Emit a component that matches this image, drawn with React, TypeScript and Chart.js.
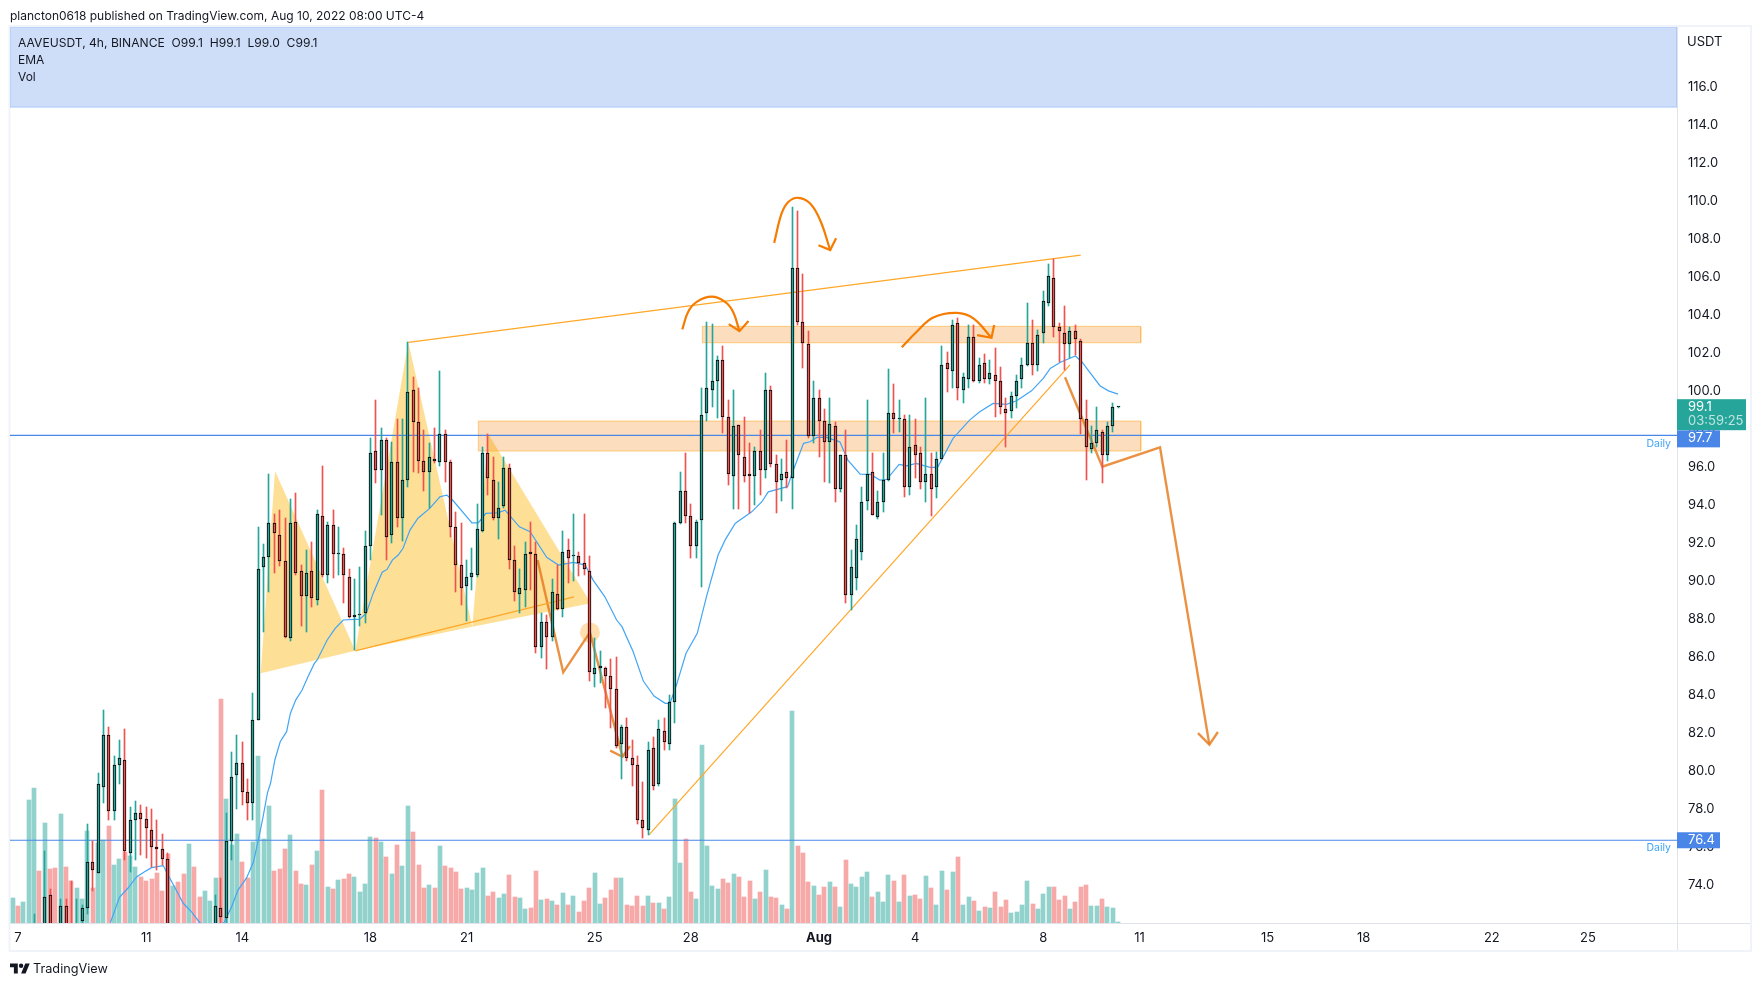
import { useEffect, useRef } from 'react';
import Chart from 'chart.js/auto';

const fontFamily = 'Inter, sans-serif';
const textColor = '#131722';
const upColor = '#26a69a';
const downColor = '#ef5350';
const upVolume = 'rgba(38,166,154,0.5)';
const downVolume = 'rgba(239,83,80,0.5)';
const trendColor = '#ffa726';
const pathColor = 'rgba(230,126,34,0.85)';
const arrowColor = '#f57c00';
const levelColor = '#4a86e8';

// bar number 0 is Jul 7 00:00, one bar is 4h
const firstBar = -1;

const opens = [
    71.0, 71.3, 70.9, 71.2, 71.0, 71.5, 71.0, 73.43, 71.4, 71.0,
    72.86, 71.5, 71.0, 72.07, 72.75, 75.17, 74.62, 79.15, 81.85, 77.85,
    80.27, 80.53, 75.64, 77.38, 77.75, 77.43, 76.85, 75.96, 75.85, 75.33,
    71.0, 71.3, 70.9, 70.5, 71.0, 70.7, 70.4, 70.9, 71.5, 72.75,
    72.23, 76.27, 79.74, 80.37, 78.85, 78.27, 82.64, 90.68, 91.24, 93.0,
    92.36, 91.0, 86.95, 93.05, 90.47, 89.16, 90.47, 88.94, 93.36, 90.26,
    92.89, 91.36, 91.36, 90.15, 88.05, 88.16, 88.26, 91.78, 96.78, 95.78,
    97.36, 92.36, 96.2, 93.26, 95.25, 99.99, 98.3, 96.25, 95.67, 96.36,
    96.2, 97.67, 96.2, 92.78, 90.79, 89.68, 90.15, 90.26, 92.57, 96.67,
    95.25, 93.26, 93.89, 95.88, 91.05, 89.26, 89.47, 91.47, 91.36, 86.47,
    87.79, 87.04, 89.26, 88.47, 91.57, 91.26, 91.26, 90.89, 90.47, 85.05,
    85.37, 85.37, 84.95, 84.27, 81.38, 82.27, 80.64, 80.27, 77.38, 76.85,
    81.16, 79.27, 82.06, 81.37, 83.58, 93.0, 94.67, 93.36, 91.78, 93.15,
    98.78, 99.99, 100.46, 101.56, 98.57, 95.46, 98.19, 96.46, 95.57, 95.46,
    96.78, 95.78, 99.99, 96.09, 95.25, 95.67, 95.36, 106.4, 103.56, 102.4,
    97.57, 99.57, 98.36, 97.25, 98.09, 94.78, 96.57, 89.22, 90.11, 91.48,
    94.17, 95.67, 93.34, 94.1, 95.25, 98.78, 98.46, 98.46, 94.88, 97.09,
    96.67, 95.15, 95.57, 94.88, 96.36, 101.41, 100.98, 103.51, 99.99, 100.56,
    102.77, 100.46, 101.41, 100.56, 100.77, 100.46, 98.99, 98.88, 99.67, 100.56,
    101.3, 102.46, 101.3, 102.98, 104.56, 105.87, 103.3, 102.98, 102.4, 103.09,
    102.56, 98.46, 96.88, 97.2, 97.78, 96.57, 98.09, 99.1,
];
const closes = [
    71.3, 70.9, 71.2, 71.5, 71.5, 70.9, 73.33, 71.0, 71.0, 72.86,
    71.2, 71.0, 71.5, 72.75, 75.17, 74.75, 79.27, 81.85, 77.85, 80.27,
    80.64, 75.75, 77.38, 77.75, 77.43, 76.96, 75.96, 75.85, 75.33, 71.2,
    71.3, 70.9, 70.5, 71.0, 70.7, 70.4, 70.9, 71.4, 72.86, 72.31,
    76.27, 79.64, 80.37, 78.85, 78.27, 82.64, 90.57, 91.24, 93.0, 92.47,
    91.0, 87.03, 93.0, 90.36, 89.16, 90.36, 89.05, 93.47, 90.26, 92.89,
    91.36, 91.4, 90.26, 88.05, 88.16, 88.18, 91.78, 96.67, 95.78, 97.36,
    92.26, 96.2, 93.26, 95.25, 99.88, 98.3, 96.25, 95.67, 96.46, 96.25,
    97.67, 96.2, 92.78, 90.79, 89.57, 90.15, 90.36, 92.68, 96.67, 95.36,
    93.26, 93.78, 95.88, 91.05, 89.37, 89.57, 91.36, 91.36, 86.47, 87.79,
    87.03, 89.37, 88.47, 91.47, 91.15, 91.28, 90.89, 90.57, 85.16, 85.37,
    85.47, 84.95, 84.27, 81.27, 82.27, 80.64, 80.27, 77.38, 76.96, 81.06,
    79.16, 82.16, 81.48, 83.58, 93.0, 94.67, 93.36, 91.78, 93.05, 98.67,
    100.09, 100.46, 101.56, 98.57, 95.57, 98.09, 96.57, 95.46, 95.46, 96.78,
    95.78, 99.99, 96.09, 95.15, 95.57, 95.36, 106.4, 103.56, 102.46, 97.57,
    99.57, 98.36, 97.25, 98.2, 94.78, 96.57, 89.22, 90.7, 92.17, 94.13,
    95.57, 93.44, 94.1, 95.25, 98.78, 98.46, 98.48, 94.88, 96.99, 96.57,
    95.15, 95.57, 94.78, 96.36, 101.3, 101.09, 103.4, 100.09, 100.67, 102.77,
    100.46, 101.3, 100.56, 100.88, 100.46, 99.09, 98.78, 99.67, 100.46, 101.3,
    102.46, 101.3, 102.88, 104.66, 105.98, 103.3, 103.09, 102.4, 103.09, 102.67,
    98.46, 97.0, 97.2, 97.88, 96.57, 98.09, 99.09, 99.12,
];
const highs = [
    71.6, 71.5, 71.4, 71.7, 72.45, 71.7, 75.76, 73.77, 71.7, 73.24,
    73.24, 74.19, 73.24, 72.92, 77.18, 76.29, 79.87, 83.18, 82.28, 80.76,
    81.6, 82.18, 78.08, 78.39, 78.18, 78.08, 77.97, 77.39, 76.66, 75.66,
    71.5, 71.6, 71.2, 71.3, 71.3, 71.0, 71.1, 71.6, 73.45, 74.34,
    77.76, 80.97, 81.86, 81.49, 79.55, 84.07, 92.8, 91.91, 95.59, 93.48,
    93.69, 93.27, 94.27, 94.57, 90.8, 91.59, 92.01, 93.69, 96.0, 93.06,
    93.69, 92.8, 91.68, 90.57, 90.05, 90.68, 92.59, 97.46, 99.48, 98.0,
    97.46, 97.27, 98.46, 98.46, 102.51, 100.69, 100.09, 97.9, 97.21, 98.0,
    100.98, 97.9, 96.32, 93.59, 93.0, 91.06, 91.68, 94.0, 97.0, 97.69,
    96.48, 95.16, 96.48, 96.1, 91.8, 90.61, 92.0, 93.06, 92.01, 88.26,
    88.16, 90.05, 90.8, 92.59, 92.15, 93.48, 91.47, 93.48, 91.27, 86.96,
    86.28, 85.45, 85.86, 85.96, 82.39, 82.76, 81.6, 80.76, 79.39, 81.49,
    81.76, 82.65, 82.74, 83.97, 93.06, 95.67, 96.67, 94.0, 93.17, 100.11,
    103.56, 103.5, 101.77, 102.3, 99.48, 100.0, 98.19, 98.57, 97.2, 96.99,
    97.9, 100.88, 100.2, 96.57, 96.36, 97.37, 109.61, 109.4, 106.08, 103.09,
    100.46, 99.99, 98.99, 99.57, 98.3, 96.58, 97.88, 91.59, 92.9, 94.9,
    99.48, 96.67, 94.69, 96.67, 101.09, 100.3, 99.48, 98.69, 98.67, 98.48,
    97.0, 99.57, 96.67, 96.76, 102.32, 102.0, 103.68, 103.77, 100.88, 103.42,
    103.42, 101.68, 101.89, 101.58, 102.21, 101.2, 99.57, 99.9, 100.79, 101.67,
    104.56, 103.68, 103.16, 105.19, 106.63, 106.87, 103.51, 104.42, 103.3, 103.42,
    102.67, 99.48, 98.11, 99.09, 97.9, 98.33, 99.3, 99.13,
];
const lows = [
    70.4, 70.5, 70.6, 70.9, 70.5, 70.6, 70.5, 70.5, 70.5, 70.5,
    70.5, 70.5, 70.5, 71.5, 72.45, 73.66, 74.6, 78.29, 77.39, 77.39,
    79.29, 75.29, 74.66, 75.29, 75.55, 75.4, 74.92, 74.76, 75.03, 70.8,
    70.5, 70.6, 70.2, 70.2, 70.4, 70.1, 70.1, 70.6, 71.0, 71.5,
    71.5, 75.29, 77.97, 78.18, 77.39, 77.39, 82.63, 87.29, 89.4, 90.4,
    90.75, 86.96, 86.82, 90.27, 87.59, 87.29, 88.61, 88.71, 90.19, 89.84,
    90.1, 90.27, 88.79, 88.01, 86.33, 87.59, 87.74, 91.06, 95.11, 93.41,
    91.06, 91.94, 92.81, 92.08, 94.92, 95.71, 95.64, 94.71, 93.78, 96.16,
    96.0, 95.16, 92.29, 89.4, 88.7, 87.87, 89.49, 90.19, 92.55, 94.48,
    93.17, 92.17, 93.78, 90.59, 88.92, 88.26, 88.58, 89.49, 86.19, 85.9,
    85.32, 86.82, 88.43, 88.08, 89.84, 89.97, 90.22, 90.27, 84.72, 84.4,
    84.58, 83.3, 82.21, 81.16, 79.55, 80.51, 79.18, 77.18, 76.46, 76.6,
    78.97, 79.18, 81.07, 81.07, 82.51, 92.94, 93.0, 91.17, 91.18, 89.63,
    98.39, 99.12, 98.51, 97.72, 95.01, 93.73, 93.73, 95.18, 93.52, 93.96,
    94.48, 95.39, 95.94, 93.52, 94.17, 94.85, 93.73, 103.42, 101.14, 97.48,
    97.2, 96.49, 95.16, 95.11, 94.11, 94.65, 88.8, 88.43, 89.49, 91.06,
    93.69, 93.43, 93.2, 93.6, 95.24, 97.72, 97.81, 94.39, 94.48, 95.36,
    94.8, 94.13, 93.39, 94.31, 96.35, 99.91, 100.09, 99.48, 99.33, 100.09,
    100.44, 100.35, 100.35, 100.32, 98.6, 98.72, 97.02, 98.51, 99.06, 100.09,
    101.26, 100.79, 101.02, 102.47, 104.42, 102.8, 101.49, 101.05, 101.68, 101.84,
    97.67, 95.27, 96.69, 96.99, 95.13, 96.28, 97.81, 99.05,
];
const volumes = [
    25, 17, 21, 123, 135, 52, 100, 54, 55, 109,
    56, 42, 35, 24, 92, 35, 80, 83, 97, 58,
    64, 71, 67, 56, 46, 42, 44, 50, 32, 69,
    37, 41, 49, 79, 56, 26, 32, 22, 45, 224,
    124, 78, 89, 61, 45, 81, 167, 84, 117, 52,
    54, 74, 88, 52, 39, 38, 58, 72, 133, 36,
    34, 43, 44, 49, 46, 31, 39, 86, 85, 81,
    66, 49, 78, 57, 117, 91, 58, 35, 38, 35,
    77, 57, 55, 51, 34, 35, 33, 50, 55, 27,
    31, 25, 29, 48, 26, 25, 14, 15, 52, 23,
    24, 22, 18, 30, 18, 27, 11, 22, 35, 50,
    19, 25, 33, 45, 45, 18, 17, 27, 17, 27,
    20, 20, 14, 26, 124, 60, 84, 31, 24, 178,
    77, 37, 34, 44, 40, 49, 46, 26, 42, 24,
    31, 53, 26, 25, 18, 14, 212, 77, 70, 41,
    37, 28, 36, 41, 36, 16, 63, 39, 36, 46,
    51, 26, 31, 21, 48, 42, 21, 48, 27, 28,
    24, 47, 35, 18, 52, 33, 51, 66, 18, 26,
    22, 12, 16, 15, 31, 16, 23, 10, 11, 18,
    42, 19, 14, 29, 36, 36, 23, 27, 14, 21,
    36, 38, 17, 17, 24, 16, 15, 1,
];

const emaBars = [
    17.3, 19, 20.6, 22.2, 23.7, 25, 27.2, 28.1, 29.3, 30.9, 32.5, 34, 36, 38.6, 40, 41.2, 42.8, 44.1, 45, 45.9,
    46.7, 47.3, 48.1, 49.1, 50.3, 51, 52, 53.2, 54.3, 55.5, 56, 57.9, 59.4, 60.9, 64, 65.2, 66.5, 68.2, 69.1, 70.1,
    71.2, 72.1, 73.4, 74.9, 77.1, 79, 80.3, 81.5, 85, 86.2, 87.6, 89.9, 91.2, 93.9, 95.9, 99, 101.2, 104, 106.2, 107.7,
    109.9, 112.1, 113.1, 115.2, 117.1, 119.1, 121.2, 122.1, 123.4, 125.1, 127.2, 129, 131.1, 132.4, 134.3, 135.2, 137.4, 139.3, 140.5, 144.1,
    145.2, 147.1, 148.3, 149.6, 151.4, 153.9, 155.4, 157.7, 159.6, 161.4, 162.7, 165, 166.4, 168.2, 170.8, 172.2, 175.1, 178.2, 180.1, 182.6,
    185.1, 187, 189.8, 192, 193.3, 195.2, 198, 199.2, 202.6, 204.2, 206,
];
const emaValues = [
    72.0, 73.33, 73.82, 74.4, 74.67, 74.89, 75.0, 74.5, 73.89, 73.03, 72.57, 72.01, 71.7, 72.01, 72.84, 73.71, 74.35, 75.2, 76.34, 77.57,
    78.81, 79.34, 80.55, 81.51, 82.04, 83.0, 83.7, 84.23, 84.93, 85.63, 85.8, 86.86, 87.47, 87.91, 87.96, 88.26, 89.31, 90.42, 90.57, 91.06,
    91.33, 91.68, 92.64, 93.26, 93.78, 94.39, 94.48, 94.18, 93.02, 93.02, 93.52, 93.55, 93.69, 92.81, 92.55, 91.21, 90.8, 90.94, 90.8, 90.01,
    89.13, 87.91, 87.56, 86.24, 84.7, 83.91, 83.53, 83.53, 84.58, 86.16, 87.21, 89.22, 91.33, 92.11, 92.99, 93.17, 93.6, 94.13, 94.65, 94.92,
    95.8, 97.2, 97.28, 97.51, 97.51, 97.28, 96.32, 95.58, 95.57, 95.27, 95.31, 96.09, 96.02, 96.15, 95.94, 95.94, 97.46, 98.42, 98.86, 99.3,
    99.25, 99.44, 99.96, 100.62, 101.14, 101.46, 101.79, 101.49, 100.23, 99.96, 99.79,
];

const priceTicks = [74, 76, 78, 80, 82, 84, 86, 88, 90, 92, 94, 96, 98, 100, 102, 104, 106, 108, 110, 112, 114, 116];
const dayTicks = [0, 24, 42, 66, 84, 108, 126, 150, 168, 192, 210, 234, 252, 276, 294];
const dayLabels = ['7', '11', '14', '18', '21', '25', '28', 'Aug', '4', '8', '11', '15', '18', '22', '25'];

// price and bar range the pane shows
const barMin = -1.5;
const barMax = 310.67;
const priceMin = 71.98;
const priceMax = 119.09;

const dailyHigh = 97.62;
const dailyLow = 76.33;
const lastClose = 99.1;

// drawings, as [bar, price]
const patternLeft = [[45.45, 85.11], [48.13, 95.74], [63.16, 86.29], [45.45, 85.11]];
const patternHead = [[63.16, 86.29], [73.09, 102.51], [85.07, 87.56], [63.16, 86.29]];
const patternRight = [[85.07, 87.56], [88.07, 97.69], [107.25, 88.79], [85.07, 87.56]];
const necklineLine = [[63.16, 86.29], [104.12, 89.13]];
const upperTrend = [[73.09, 102.51], [199.0, 107.1]];
const lowerTrend = [[118.16, 76.61], [197.0, 101.33]];
const upperZone = [[128.15, 103.35], [210.24, 103.35], [210.24, 102.49], [128.15, 102.49], [128.15, 103.35]];
const lowerZone = [[86.2, 98.37], [210.24, 98.37], [210.24, 96.8], [86.2, 96.8], [86.2, 98.37]];
const legendBand = [[barMin, priceMax], [barMax, priceMax], [barMax, 114.88], [barMin, 114.88], [barMin, priceMax]];
const pathOne = [[97.3, 91.06], [102.1, 85.16], [107.1, 87.26], [113.2, 80.72]];
const pathOneHead = [[110.9, 81.04], [113.2, 80.72], [114.6, 81.28]];
const pathTwo = [[196.07, 100.67], [203.05, 95.97], [213.86, 96.99], [223.1, 81.36]];
const pathTwoHead = [[220.97, 81.96], [223.1, 81.36], [224.7, 82.02]];
const curveOne = [[124.4, 103.19], [125.5, 104.12], [127.1, 104.64], [129.9, 104.91], [132.4, 104.64], [133.9, 104.12], [135.1, 103.1]];
const curveOneHead = [[133.1, 103.47], [135.1, 103.1], [136.8, 103.63]];
const curveTwo = [[141.6, 107.74], [143.0, 109.29], [144.3, 109.9], [146.1, 110.11], [148.3, 109.82], [150.2, 108.94], [152.1, 107.36]];
const curveTwoHead = [[149.9, 107.62], [152.1, 107.36], [153.2, 107.98]];
const curveThree = [[165.5, 102.25], [168.3, 103.07], [171.4, 103.82], [175.8, 104.06], [178.9, 103.77], [182.3, 102.75]];
const curveThreeHead = [[179.6, 102.89], [182.3, 102.75], [182.8, 103.42]];
const marker = [[107.1, 87.26]];

const toXY = (points: number[][]) => points.map(([x, y]) => ({ x, y }));

const line = (points: number[][], color: string, width: number, order: number, tension = 0) => ({
    type: 'line' as const,
    data: toXY(points),
    borderColor: color,
    borderWidth: width,
    pointRadius: 0,
    tension,
    order,
});

const shape = (points: number[][], fillColor: string, edge: string, order: number) => ({
    type: 'line' as const,
    data: toXY(points),
    backgroundColor: fillColor,
    borderColor: edge,
    borderWidth: edge === 'transparent' ? 0 : 1,
    pointRadius: 0,
    fill: 'shape',
    order,
});

// keep candles and volume on whole pixels, so the thin black edges stay sharp
const snapBars = {
    id: 'snapBars',
    afterDatasetsUpdate(chart: Chart) {
        chart.data.datasets.forEach((ds: any, index: number) => {
            if (ds.type !== 'bar') return;
            chart.getDatasetMeta(index).data.forEach((el: any) => {
                el.x = ds.yAxisID === 'vol' ? Math.round(el.x) : Math.floor(el.x) + 0.5;
                el.y = Math.round(el.y);
                el.base = Math.round(el.base);
                if (el.y === el.base) el.y -= 1;
            });
        });
    },
};

// window chrome and the tags on the price axis
const frameAndTags = {
    id: 'frameAndTags',
    beforeDraw(chart: Chart) {
        const { ctx, chartArea } = chart;
        ctx.save();
        ctx.fillStyle = '#ffffff';
        ctx.fillRect(0, 0, chart.width, chart.height);
        ctx.strokeStyle = '#f0f3fa';
        ctx.lineWidth = 2;
        ctx.strokeRect(9.5, 26, 1741.5, 925);
        ctx.strokeStyle = '#e0e3eb';
        ctx.lineWidth = 1;
        ctx.beginPath();
        ctx.moveTo(chartArea.right + 0.5, 27);
        ctx.lineTo(chartArea.right + 0.5, 950);
        ctx.moveTo(10, chartArea.bottom + 0.5);
        ctx.lineTo(1750, chartArea.bottom + 0.5);
        ctx.stroke();
        ctx.restore();
    },
    afterDraw(chart: Chart) {
        const { ctx, chartArea } = chart;
        const y = chart.scales.y;
        const left = chartArea.right;
        const tagText = (text: string, py: number, color: string) => {
            ctx.fillStyle = color;
            ctx.fillText(text, left + 11, py);
        };
        ctx.save();
        ctx.font = `13px ${fontFamily}`;
        ctx.textBaseline = 'middle';
        ctx.textAlign = 'left';

        const closeY = y.getPixelForValue(lastClose);
        ctx.fillStyle = upColor;
        ctx.fillRect(left, closeY - 8, 69, 31);
        tagText(String(lastClose.toFixed(1)), closeY, '#ffffff');
        tagText('03:59:25', closeY + 14, 'rgba(255,255,255,0.7)');

        const highY = y.getPixelForValue(dailyHigh);
        ctx.fillStyle = levelColor;
        ctx.fillRect(left, highY - 5, 43, 17);
        tagText('97.7', highY + 3, '#ffffff');

        const lowY = y.getPixelForValue(dailyLow);
        ctx.fillStyle = levelColor;
        ctx.fillRect(left, lowY - 8, 43, 16);
        tagText('76.4', lowY, '#ffffff');

        ctx.font = `10.5px ${fontFamily}`;
        ctx.fillStyle = '#42a5f5';
        ctx.textAlign = 'right';
        ctx.fillText('Daily', left - 6, highY + 8);
        ctx.fillText('Daily', left - 6, lowY + 8);
        ctx.restore();
    },
};

const bars = opens.map((_, i) => firstBar + i);
const isUp = opens.map((o, i) => closes[i] >= o);

export default function App() {
    const chartRef = useRef<HTMLCanvasElement>(null);

    useEffect(() => {
        if (!chartRef.current) return;

        const chart = new Chart(chartRef.current, {
            type: 'bar',
            plugins: [snapBars, frameAndTags],
            data: {
                datasets: [
                    // curved arrows sit on top of the candles
                    line(curveOne, arrowColor, 2.2, 0, 0.4),
                    line(curveOneHead, arrowColor, 2.2, 0),
                    line(curveTwo, arrowColor, 2.2, 0, 0.4),
                    line(curveTwoHead, arrowColor, 2.2, 0),
                    line(curveThree, arrowColor, 2.2, 0, 0.4),
                    line(curveThreeHead, arrowColor, 2.2, 0),
                    shape(legendBand, '#cfdef8', '#a9c9fb', 0),
                    {
                        type: 'bar' as const,
                        data: bars.map((x, i) => ({ x, y: [opens[i], closes[i]] })),
                        backgroundColor: isUp.map((up) => (up ? upColor : downColor)),
                        borderColor: '#000000',
                        borderWidth: 1,
                        borderSkipped: false,
                        barThickness: 3,
                        grouped: false,
                        order: 1,
                    },
                    {
                        type: 'bar' as const,
                        data: bars.map((x, i) => ({ x, y: [lows[i], highs[i]] })),
                        backgroundColor: isUp.map((up) => (up ? upColor : downColor)),
                        barThickness: 1,
                        grouped: false,
                        order: 2,
                    },
                    {
                        type: 'line' as const,
                        data: emaBars.map((x, i) => ({ x, y: emaValues[i] })),
                        borderColor: '#42a5f5',
                        borderWidth: 1.2,
                        pointRadius: 0,
                        order: 3,
                    },
                    line(upperTrend, trendColor, 1.2, 4),
                    line(lowerTrend, trendColor, 1.2, 4),
                    line(necklineLine, trendColor, 1.2, 4),
                    line(pathOne, pathColor, 2.4, 4),
                    line(pathOneHead, pathColor, 2.4, 4),
                    line(pathTwo, pathColor, 2.4, 4),
                    line(pathTwoHead, pathColor, 2.4, 4),
                    {
                        type: 'line' as const,
                        data: toXY(marker),
                        pointRadius: 10,
                        pointBackgroundColor: 'rgba(255,183,77,0.45)',
                        pointBorderWidth: 0,
                        showLine: false,
                        order: 4,
                    },
                    line([[barMin, dailyHigh], [barMax, dailyHigh]], levelColor, 1.2, 5),
                    line([[barMin, dailyLow], [barMax, dailyLow]], levelColor, 1.2, 5),
                    shape(upperZone, 'rgba(245,124,0,0.25)', 'rgba(255,183,77,0.7)', 6),
                    shape(lowerZone, 'rgba(245,124,0,0.25)', 'rgba(255,183,77,0.7)', 6),
                    shape(patternLeft, 'rgba(251,192,45,0.5)', 'transparent', 7),
                    shape(patternHead, 'rgba(251,192,45,0.5)', 'transparent', 7),
                    shape(patternRight, 'rgba(251,192,45,0.5)', 'transparent', 7),
                    {
                        type: 'bar' as const,
                        data: bars.map((x, i) => ({ x, y: volumes[i] })),
                        yAxisID: 'vol',
                        backgroundColor: isUp.map((up) => (up ? upVolume : downVolume)),
                        barThickness: 4,
                        grouped: false,
                        order: 8,
                    },
                ],
            },
            options: {
                animation: false,
                responsive: false,
                devicePixelRatio: 1,
                layout: { padding: { left: 10, top: 27, right: 11, bottom: 35 } },
                plugins: {
                    legend: { display: false },
                    tooltip: { enabled: false },
                },
                scales: {
                    x: {
                        type: 'linear',
                        offset: false,
                        min: barMin,
                        max: barMax,
                        grid: { display: false, drawTicks: false, offset: false },
                        border: { display: false },
                        afterFit: (scale: any) => {
                            scale.height = 28;
                        },
                        afterBuildTicks: (scale: any) => {
                            scale.ticks = dayTicks.map((value) => ({ value }));
                        },
                        ticks: {
                            autoSkip: false,
                            maxRotation: 0,
                            padding: 7,
                            color: textColor,
                            font: (ctx: any) => ({
                                family: fontFamily,
                                size: 13,
                                weight: ctx.tick && ctx.tick.label === 'Aug' ? 'bold' : 'normal',
                            }),
                            callback: (value: any) => dayLabels[dayTicks.indexOf(Number(value))],
                        },
                    },
                    y: {
                        position: 'right',
                        min: priceMin,
                        max: priceMax,
                        grid: { display: false, drawTicks: false },
                        border: { display: false },
                        afterFit: (scale: any) => {
                            scale.width = 73;
                        },
                        afterBuildTicks: (scale: any) => {
                            scale.ticks = priceTicks.map((value) => ({ value }));
                        },
                        ticks: {
                            autoSkip: false,
                            crossAlign: 'near',
                            padding: 11,
                            labelOffset: 1,
                            color: textColor,
                            font: { family: fontFamily, size: 13 },
                            callback: (value: any) => Number(value).toFixed(1),
                        },
                    },
                    vol: {
                        axis: 'y',
                        display: false,
                        position: 'left',
                        min: 0,
                        max: 896,
                    },
                },
            } as any,
        } as any);

        return () => {
            chart.destroy();
        };
    }, []);

    const label: React.CSSProperties = {
        position: 'absolute',
        fontFamily,
        color: textColor,
        whiteSpace: 'pre',
        lineHeight: '16px',
    };

    return (
        <div style={{ position: 'absolute', left: 0, top: 0, width: 1761, height: 986, background: '#ffffff', overflow: 'hidden' }}>
            <canvas ref={chartRef} width={1761} height={986} style={{ display: 'block' }}></canvas>
            <div style={{ ...label, left: 10, top: 8, fontSize: 12 }}>plancton0618 published on TradingView.com, Aug 10, 2022 08:00 UTC-4</div>
            <div style={{ ...label, left: 18, top: 35, fontSize: 12.1 }}>AAVEUSDT, 4h, BINANCE  O99.1  H99.1  L99.0  C99.1</div>
            <div style={{ ...label, left: 18, top: 52, fontSize: 12 }}>EMA</div>
            <div style={{ ...label, left: 18, top: 69, fontSize: 12 }}>Vol</div>
            <div style={{ ...label, left: 1687, top: 33, fontSize: 13 }}>USDT</div>
            <svg style={{ position: 'absolute', left: 10, top: 961 }} width={20} height={16} viewBox='0 0 36 28' fill={textColor}>
                <path d='M14 22H7V11H0V4h14v18zM28 22h-8l7.5-18h8L28 22z' />
                <circle cx='20' cy='8' r='4' />
            </svg>
            <div style={{ ...label, left: 33, top: 961, fontSize: 12.7 }}>TradingView</div>
        </div>
    );
}
